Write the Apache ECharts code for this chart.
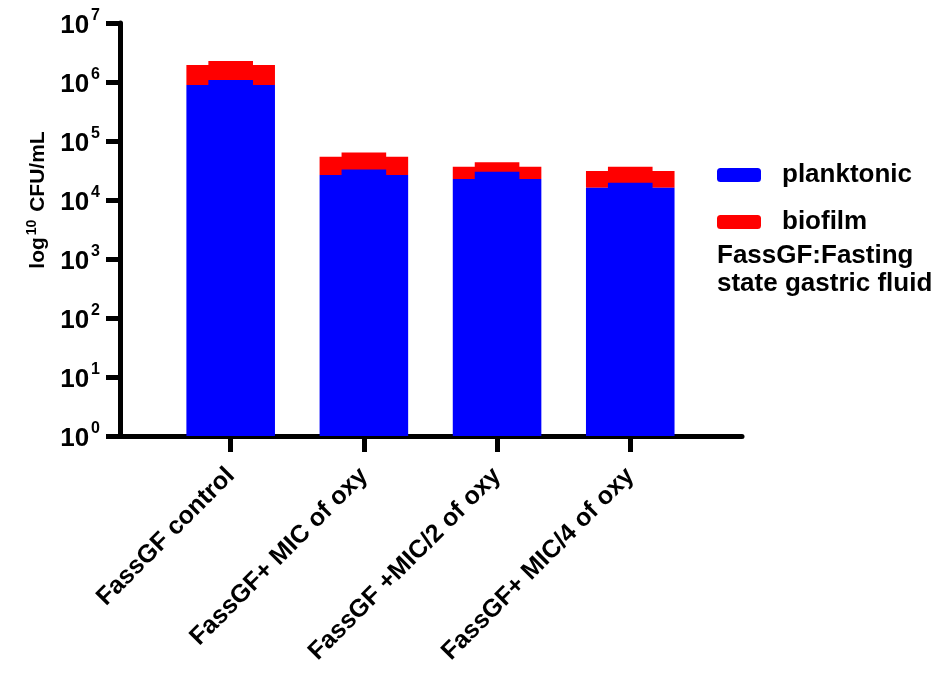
<!DOCTYPE html>
<html>
<head>
<meta charset="utf-8">
<script src="https://cdn.jsdelivr.net/npm/echarts@6/dist/echarts.min.js"></script>
<style>html,body{margin:0;padding:0;background:#fff;}#chart{width:949px;height:675px;}</style>
</head>
<body>
<div id="chart"></div>
<script>
var categories = ['FassGF control', 'FassGF+ MIC of oxy', 'FassGF +MIC/2 of oxy', 'FassGF+ MIC/4 of oxy'];
var planktonic = [1.08e6, 3.3e4, 3.0e4, 1.96e4];
var biofilm = [1.19e6, 3.1e4, 1.35e4, 1.7e4];
var planktonicLow = [8.9e5, 2.65e4, 2.27e4, 1.62e4];
var biofilmLow = [1.05e6, 2.77e4, 1.4e4, 1.48e4];
var yTickExponents = [0, 1, 2, 3, 4, 5, 6, 7];
var noteLines = ['FassGF:Fasting', 'state gastric fluid'];

var FONT = '"Liberation Sans", Arial, sans-serif';
var BLUE = '#0000ff', RED = '#ff0000';

var rows = categories.map(function (c, i) {
  return [i + 1, planktonic[i], biofilm[i], planktonicLow[i], biofilmLow[i]];
});

function makeRender(which) {
  return function (params, api) {
    var x = api.value(0);
    var p = api.value(1), b = api.value(2), pl = api.value(3), bl = api.value(4);
    var unit = api.size([1, 1])[0];
    var full = unit * 0.665, mid = unit * 0.335;
    var cx = api.coord([x, 1])[0];
    var base = api.coord([x, 1])[1];
    function y(v) { return api.coord([x, v])[1]; }
    var children = [];
    if (which === 'blue') {
      children.push({ type: 'rect', shape: { x: cx - full / 2, y: y(pl), width: full, height: base - y(pl) }, style: { fill: BLUE } });
      children.push({ type: 'rect', shape: { x: cx - mid / 2, y: y(p), width: mid, height: base - y(p) }, style: { fill: BLUE } });
    } else {
      children.push({ type: 'rect', shape: { x: cx - full / 2, y: y(pl + bl), width: full, height: y(pl) - y(pl + bl) }, style: { fill: RED } });
      children.push({ type: 'rect', shape: { x: cx - mid / 2, y: y(p + b), width: mid, height: y(p) - y(p + b) }, style: { fill: RED } });
    }
    return { type: 'group', children: children };
  };
}

var chart = echarts.init(document.getElementById('chart'), null, { renderer: 'canvas' });
chart.setOption({
  backgroundColor: '#fff',
  animation: false,
  grid: { left: 120, top: 23, width: 622, height: 413 },
  legend: {
    data: ['planktonic', 'biofilm'],
    orient: 'vertical',
    left: 712,
    top: 157,
    itemWidth: 44,
    itemHeight: 14,
    itemGap: 21,
    icon: 'roundRect',
    textStyle: { fontFamily: FONT, fontWeight: 'bold', fontSize: 26, color: '#000', padding: [0, 0, 0, 16] }
  },
  xAxis: {
    type: 'value',
    min: 0.169,
    max: 4.839,
    splitLine: { show: false },
    axisLine: { show: true, onZero: false, lineStyle: { color: '#000', width: 5 } },
    axisTick: { show: true, customValues: [1, 2, 3, 4], length: 16, lineStyle: { color: '#000', width: 5 } },
    axisLabel: {
      customValues: [1, 2, 3, 4],
      rotate: 45,
      margin: 36,
      fontFamily: FONT, fontWeight: 'bold', fontSize: 25, color: '#000',
      formatter: function (v) { return categories[Math.round(v) - 1] || ''; }
    }
  },
  yAxis: {
    type: 'log',
    logBase: 10,
    min: 1,
    max: 1e7,
    splitNumber: 7,
    splitLine: { show: false },
    axisLine: { show: true, lineStyle: { color: '#000', width: 5 } },
    axisTick: { show: true, length: 14, lineStyle: { color: '#000', width: 5 } },
    axisLabel: {
      margin: 20,
      formatter: function (v) {
        var e = Math.round(Math.log10(v));
        return yTickExponents.indexOf(e) >= 0 ? '{b|10}{s|' + e + '}' : '';
      },
      rich: {
        b: { fontFamily: FONT, fontWeight: 'bold', fontSize: 26, color: '#000', lineHeight: 30, padding: [6, 0, 0, 0] },
        s: { fontFamily: FONT, fontWeight: 'bold', fontSize: 16, color: '#000', lineHeight: 30, verticalAlign: 'top', padding: [0, 0, 8, 2] }
      }
    }
  },
  graphic: [{
    type: 'text', x: 38, y: 200, rotation: Math.PI / 2,
    style: {
      text: '{a|log}{s|10}{a| CFU/mL}', align: 'center', verticalAlign: 'middle',
      rich: {
        a: { fontFamily: FONT, fontWeight: 'bold', fontSize: 21, fill: '#000', lineHeight: 26 },
        s: { fontFamily: FONT, fontWeight: 'bold', fontSize: 14, fill: '#000', lineHeight: 26, verticalAlign: 'top', padding: [0, 2, 8, 2] }
      }
    }
  }].concat(noteLines.map(function (t, i) {
    return {
      type: 'text', left: 717, top: 243 + i * 28,
      style: { text: t, fontFamily: FONT, fontWeight: 'bold', fontSize: 26, fill: '#000' }
    };
  })),
  series: [
    { name: 'biofilm', type: 'custom', itemStyle: { color: RED }, renderItem: makeRender('red'), encode: { x: 0, y: [1] }, data: rows, z: 2 },
    { name: 'planktonic', type: 'custom', itemStyle: { color: BLUE }, renderItem: makeRender('blue'), encode: { x: 0, y: [1] }, data: rows, z: 3 }
  ]
});
</script>
</body>
</html>
